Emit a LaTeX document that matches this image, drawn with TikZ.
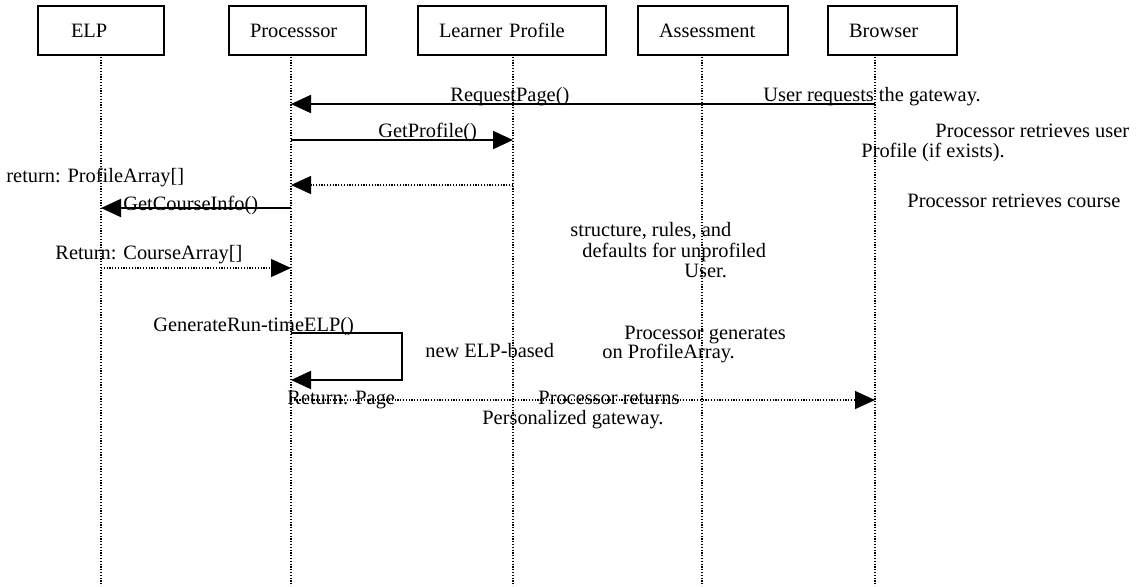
\documentclass[tikz,border=0pt]{standalone}
\usepackage{fontspec}
\setmainfont{Liberation Serif}
\usetikzlibrary{arrows.meta}

\tikzset{
  actor/.style={draw, line width=1pt, anchor=north west, minimum height=24.5pt,
                inner xsep=10.5pt, inner ysep=0pt, align=left},
  life/.style={line width=0.7pt, dash pattern=on 0.6pt off 0.8pt},
  call/.style={line width=1pt, -{Triangle[length=10pt,width=9pt]}},
  reply/.style={life, -{Triangle[length=10pt,width=9pt]}},
  note/.style={anchor=base west, inner sep=0pt},
}

\begin{document}
\begin{tikzpicture}[x=0.5pt, y=-0.5pt, font=\fontsize{10.2}{12}\selectfont]
  \useasboundingbox (0,0) rectangle (1140,586);

  % participants
  \node[actor, text width=42pt]   (elp)  at (37,5)  {\hspace*{6pt}ELP};
  \node[actor, text width=47.5pt] (proc) at (228,5) {Processsor};
  \node[actor, text width=73pt]   (lp)   at (417,5) {Learner Profile};
  \node[actor, text width=54pt]   (asmt) at (637,5) {Assessment};
  \node[actor, text width=43.5pt] (brw)  at (827,5) {Browser};

  % lifelines
  \coordinate (elp-l)  at (101,54);
  \coordinate (proc-l) at (291,54);
  \coordinate (lp-l)   at (513,54);
  \coordinate (asmt-l) at (702,54);
  \coordinate (brw-l)  at (875,54);
  \coordinate (bottom) at (0,586);
  \foreach \n in {elp,proc,lp,asmt,brw}
    \draw[life] (\n-l) -- (\n-l |- bottom);

  % message rows
  \coordinate (m1) at (0,104);
  \coordinate (m2) at (0,140);
  \coordinate (m3) at (0,185);
  \coordinate (m4) at (0,208);
  \coordinate (m5) at (0,268);
  \coordinate (m6) at (0,333);
  \coordinate (m6-r) at (402,333);
  \coordinate (m6-b) at (0,380);
  \coordinate (m7) at (0,400);

  % messages
  \draw[call]  (brw-l |- m1)  -- (proc-l |- m1);
  \draw[call]  (proc-l |- m2) -- (lp-l |- m2);
  \draw[reply] (lp-l |- m3)   -- (proc-l |- m3);
  \draw[call]  (proc-l |- m4) -- (elp-l |- m4);
  \draw[reply] (elp-l |- m5)  -- (proc-l |- m5);
  \draw[call]  (proc-l |- m6) -- (m6-r) |- (proc-l |- m6-b);
  \draw[reply] (proc-l |- m7) -- (brw-l |- m7);

  % message labels
  \node[note] (m1-lbl) at (450,101) {RequestPage()};
  \node[note] (m2-lbl) at (378,137) {GetProfile()};
  \node[note] (m3-lbl) at (6,182)   {return: ProfileArray[]};
  \node[note] (m4-lbl) at (123,210) {GetCourseInfo()};
  \node[note] (m5-lbl) at (55,259)  {Return: CourseArray[]};
  \node[note] (m6-lbl) at (153,331) {GenerateRun-timeELP()};
  \node[note] (m7-lbl) at (287,404) {Return: Page};

  % comments beside the messages
  \node[note] (c1)  at (763,101) {User requests the gateway.};
  \node[note] (c2a) at (935,137) {Processor retrieves user};
  \node[note] (c2b) at (861,157) {Profile (if exists).};
  \node[note] (c4a) at (907,207) {Processor retrieves course};
  \node[note] (c4b) at (570,236) {structure, rules, and};
  \node[note] (c4c) at (582,257) {defaults for unprofiled};
  \node[note] (c4d) at (684,277) {User.};
  \node[note] (c6a) at (425,357) {new ELP-based};
  \node[note] (c6b) at (624,339) {Processor generates};
  \node[note] (c6c) at (602,358) {on ProfileArray.};
  \node[note] (c7a) at (538,404) {Processor returns};
  \node[note] (c7b) at (482,424) {Personalized gateway.};
\end{tikzpicture}
\end{document}
